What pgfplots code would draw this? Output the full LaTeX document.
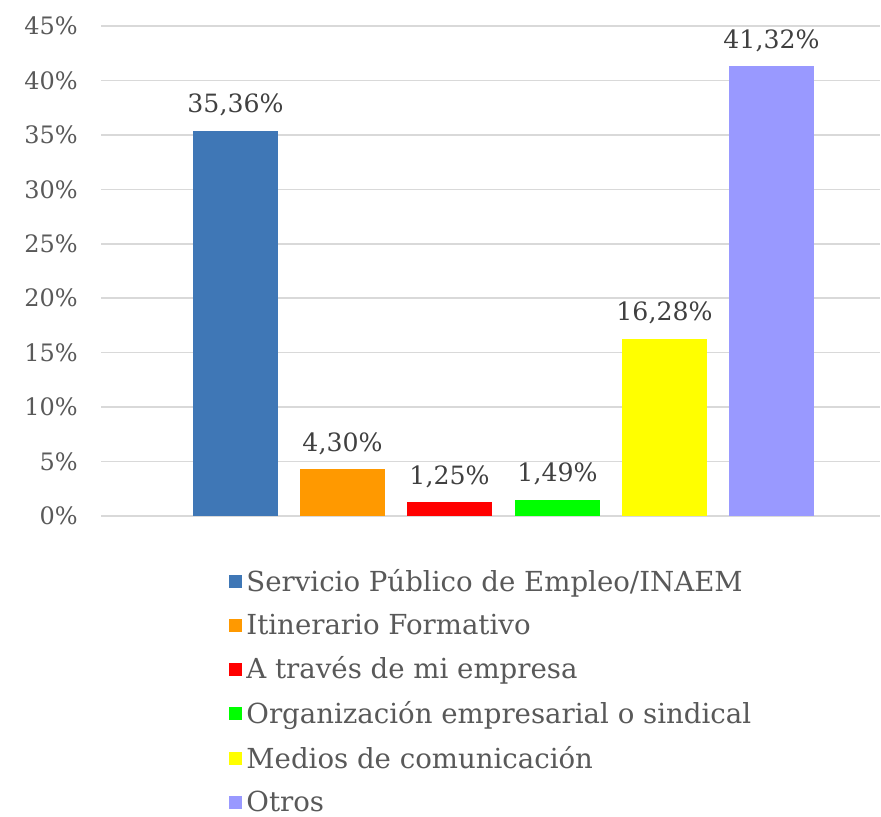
\documentclass[border=0pt]{standalone}
\usepackage{pgfplots}
\pgfplotsset{compat=1.18}
\usepackage{fontspec}
\setmainfont{DejaVu Serif}
\definecolor{c1}{HTML}{3F77B6}
\definecolor{c2}{HTML}{FF9900}
\definecolor{c3}{HTML}{FF0000}
\definecolor{c4}{HTML}{00FF00}
\definecolor{c5}{HTML}{FFFF00}
\definecolor{c6}{HTML}{9999FF}
\definecolor{gridgray}{HTML}{D9D9D9}
\definecolor{labgray}{HTML}{595959}
\definecolor{datagray}{HTML}{404040}
\begin{document}
\begin{tikzpicture}
\begin{axis}[
  scale only axis, width=389.5pt, height=245pt,
  xmin=101, xmax=880, ymin=0, ymax=45,
  ytick={0,5,...,45}, xtick=\empty,
  yticklabel={\pgfmathprintnumber{\tick}\%},
  /pgf/number format/assume math mode=true,
  axis line style={draw=none},
  ymajorgrids, grid style={draw=gridgray, line width=0.75pt},
  major tick length=0pt,
  tick label style={font=\fontsize{12}{14}\selectfont, text=labgray},
  yticklabel style={inner sep=0pt, xshift=-11.5pt},
  clip=false,
  nodes near coords={\pgfmathprintnumber[fixed,fixed zerofill,precision=2,use comma]{\pgfplotspointmeta}\%},
  every node near coord/.append style={font=\fontsize{12.6}{14}\selectfont, text=datagray, anchor=base, inner sep=0pt, yshift=9pt},
  legend image code/.code={\fill[#1] (0pt,-3.25pt) rectangle (6.5pt,3.25pt);},
  legend style={at={(axis cs:229,-4.5)}, anchor=north west, draw=none, fill=none,
    font=\fontsize{13.8}{16}\selectfont, text=labgray, row sep=5.75pt,
    cells={anchor=west}, inner sep=0pt,
    nodes={inner xsep=2pt}},
  legend cell align=left,
]
\addplot[ybar, bar width=85, bar shift=0pt, fill=c1, draw=none] coordinates {(235.5,35.36)};
\addplot[ybar, bar width=85, bar shift=0pt, fill=c2, draw=none] coordinates {(342.5,4.30)};
\addplot[ybar, bar width=85, bar shift=0pt, fill=c3, draw=none] coordinates {(449.5,1.25)};
\addplot[ybar, bar width=85, bar shift=0pt, fill=c4, draw=none] coordinates {(557.5,1.49)};
\addplot[ybar, bar width=85, bar shift=0pt, fill=c5, draw=none] coordinates {(664.5,16.28)};
\addplot[ybar, bar width=85, bar shift=0pt, fill=c6, draw=none] coordinates {(771.5,41.32)};
\legend{Servicio Público de Empleo/INAEM, Itinerario Formativo, A través de mi empresa, Organización empresarial o sindical, Medios de comunicación, Otros}
\coordinate (sw) at (axis cs:0,-27.64);
\coordinate (ne) at (axis cs:881,47.39);
\end{axis}
\pgfresetboundingbox
\path[use as bounding box] (sw) rectangle (ne);
\end{tikzpicture}
\end{document}
